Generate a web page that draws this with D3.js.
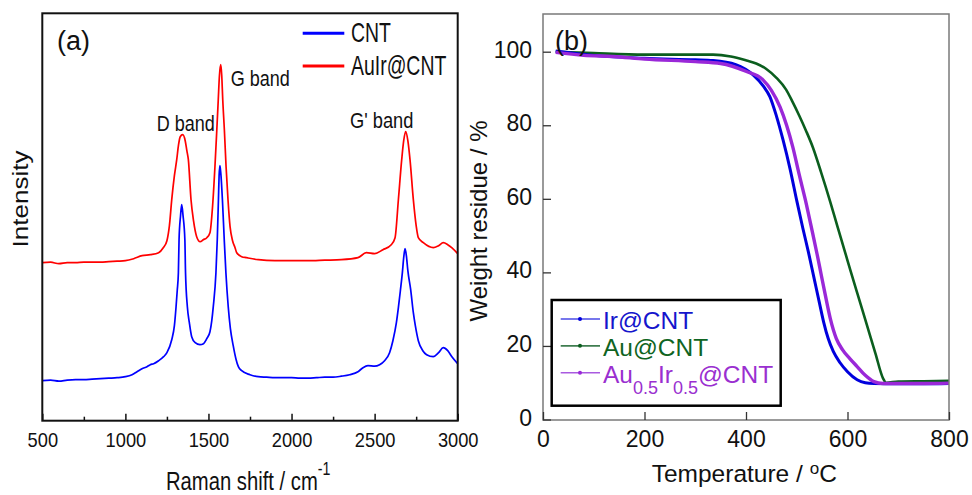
<!DOCTYPE html>
<html>
<head>
<meta charset="utf-8">
<script src="https://cdn.jsdelivr.net/npm/d3@7"></script>
<style>
  body { margin: 0; background: #fff; }
  text { font-family: "Liberation Sans", Arial, sans-serif; fill: #111; }
</style>
</head>
<body>
<div id="chart-area"></div>
<script>
// ---- data: Raman spectra (a) ----
var ramanTicks = [500, 1000, 1500, 2000, 2500, 3000]
var ramanMinor = [750, 1250, 1750, 2250, 2750]

var cntShift = [500,550,600,650,700,750,800,850,900,950,1000,1040,1070,1100,1130,1150,1170,1200,1230,1250,1279,1295,1305,1312,1319,1323,1332,1339,1347,1358,1362,1373,1385,1399,1420,1449,1470,1490,1509,1520,1529,1545,1553,1560,1564,1569,1574,1584,1595,1605,1619,1632,1649,1665,1680,1700,1750,1800,1850,1900,1950,2000,2050,2100,2150,2200,2250,2300,2350,2400,2430,2460,2500,2530,2560,2590,2610,2631,2643,2655,2667,2675,2683,2691,2700,2717,2733,2745,2763,2790,2813,2853,2885,2913,2940,2965,3000]
var cntInt   = [40,40.5,39.5,40.5,41,41,41.5,42,42.5,43,44,46,49,52,54,56,57,60,64,68,81,95,114,130,148,181,205,216,205,181,148,114,98,84,78,76,77,82,89,100,114,148,181,221,245,255,248,221,181,148,114,92,75,62,54,50,46,44,43.5,43,43,43,42.5,42.5,43,43.5,43.5,44.5,46,49,53,55,54.5,56,60,68,80,98,113,130,148,163,172,165,150,131,108,95,80,70,66,64,68,73,70,64,57]

var auirShift = [500,550,600,650,700,750,800,850,900,950,1000,1050,1100,1150,1200,1228,1250,1265,1279,1295,1309,1320,1330,1345,1360,1370,1379,1395,1410,1429,1450,1469,1490,1509,1525,1539,1550,1559,1566,1574,1580,1586,1596,1606,1618,1630,1645,1660,1670,1700,1730,1800,1900,2000,2100,2200,2300,2400,2450,2500,2550,2600,2623,2643,2663,2675,2687,2700,2713,2733,2750,2763,2793,2853,2885,2913,2940,2964,3000]
var auirInt   = [158,158.5,157,158,158,158.5,158.5,158.5,159,159.5,160,162,165,166,168,173,180,195,221,245,261,276,284,286,280,270,261,221,200,184,179,181,183,188,215,254,290,321,345,356,345,321,290,254,220,194,180,173,168,164,163,161,160,160,160,160.5,161,163,168,167,171,176,183,221,261,280,289,280,261,221,195,183,178,173,175,178,176,173,167]

var ramanSeries = ["CNT", "AuIr@CNT"]
var ramanColors = ["#0000ff", "#ff0000"]

// ---- data: TGA (b) ----
var tempTicks = [0, 200, 400, 600, 800]
var weightTicks = [0, 20, 40, 60, 80, 100]

var irTemp  = [25,100,200,300,335,380,414,435,447,460,473,487,500,512,523,534,545,553,562,572,585,600,619,635,652,700,750,800]
var irW     = [100.2,99,98.2,97.8,97.6,96.5,93.7,90.5,87.8,82.5,76,68,59.5,52,45.5,38.5,31.5,26.5,22,18.5,15.5,13,10.8,10,9.8,9.7,9.7,9.8]
var auTemp  = [25,100,200,300,335,370,401,420,440,460,479,492,505,518,532,548,566,580,595,605,620,638,655,670,676,700,750,800]
var auW     = [100,99.6,99.2,99.2,99.2,98.7,97.6,96.8,95.3,92.9,89.7,86.3,82.6,78.6,73.9,67.2,59.2,52.6,45.6,40.9,34,25.8,18,11.2,10,10.3,10.4,10.5]
var auirTemp = [25,80,138,200,300,350,401,433,450,467,480,492,505,519,530,540,548,556,566,578,590,605,619,635,652,670,700,750,800]
var auirW    = [99.8,99,98.7,98,97.3,96.8,94.6,92.4,89.5,85,80,74.2,66.5,58.5,51.5,45,39.5,34,27.5,22,19,16.5,14.4,12,10.3,9.8,9.8,9.8,9.9]

var tgaSeries = ["Ir@CNT", "Au@CNT", "Au0.5Ir0.5@CNT"]
var tgaColors = ["#0000dd", "#0b5e1e", "#9a28d8"]
var tgaLegendLine = ["#4a4ae6", "#3f7d50", "#a95ae0"]
var tgaLegendText = ["#1515cc", "#0f6422", "#9a2fd0"]

var canvasWidth = 972
var canvasHeight = 495

var svg = d3.select("#chart-area")
	.append("svg")
	.attr("width", canvasWidth)
	.attr("height", canvasHeight)

// helper: text with horizontal squeeze (panel a looks compressed)
function label(g, x, y, str, size, sx, anchor, rot) {
	var t = "translate(" + x + "," + y + ") scale(" + sx + ",1)"
	if (rot) t += " rotate(" + rot + ")"
	return g.append("text")
		.attr("transform", t)
		.attr("font-size", size + "px")
		.attr("text-anchor", anchor || "start")
		.text(str)
}

// ================= panel (a) =================
var boxA = {left: 42.3, right: 457.7, top: 13.3, bottom: 420.7}

var xA = d3.scaleLinear().domain([500, 3000]).range([boxA.left, boxA.right])
var yA = d3.scaleLinear().domain([0, 407.4]).range([boxA.bottom, boxA.top])

var gA = svg.append("g")

var lineA = d3.line()
	.x(function(d){ return xA(d[0]) })
	.y(function(d){ return yA(d[1]) })
	.curve(d3.curveMonotoneX)

var ramanData = [
	d3.zip(cntShift, cntInt),
	d3.zip(auirShift, auirInt)
]

gA.selectAll("path.spec")
	.data(ramanData)
	.enter().append("path")
		.attr("class", "spec")
		.attr("d", lineA)
		.attr("fill", "none")
		.attr("stroke", function(d,i){ return ramanColors[i] })
		.attr("stroke-width", 1.7)

var axA = gA.append("g")
	.attr("transform", "translate(0," + boxA.bottom + ")")
	.call(d3.axisBottom(xA).tickValues(ramanTicks).tickSize(-7).tickFormat(d3.format("d")))
axA.select(".domain").remove()
axA.selectAll("line").attr("stroke", "#111").attr("stroke-width", 1.5)
axA.selectAll("text")
	.attr("y", 26).attr("dy", null)
	.attr("font-size", "21px")
	.attr("font-family", "Liberation Sans, Arial, sans-serif")
	.attr("fill", "#111")
	.attr("transform", "scale(0.87,1)")

var axAm = gA.append("g")
	.attr("transform", "translate(0," + boxA.bottom + ")")
	.call(d3.axisBottom(xA).tickValues(ramanMinor).tickSize(-4).tickFormat(""))
axAm.select(".domain").remove()
axAm.selectAll("line").attr("stroke", "#111").attr("stroke-width", 1.5)

gA.append("rect")
	.attr("x", boxA.left).attr("y", boxA.top)
	.attr("width", boxA.right - boxA.left)
	.attr("height", boxA.bottom - boxA.top)
	.attr("fill", "none")
	.attr("stroke", "#111")
	.attr("stroke-width", 2)

label(gA, 57, 49.5, "(a)", 27, 1)
label(gA, 156.7, 130.7, "D band", 22, 0.82)
label(gA, 230.7, 86, "G band", 22, 0.82)
label(gA, 350, 128, "G' band", 22, 0.83)

// legend (a)
ramanSeries.forEach(function(name, i){
	var ly = 33.3 + i * 32.7
	gA.append("line")
		.attr("x1", 302.7).attr("x2", 344.3)
		.attr("y1", ly).attr("y2", ly)
		.attr("stroke", ramanColors[i])
		.attr("stroke-width", 3)
	label(gA, 351, ly + 8.6, name, 27, 0.72)
})

label(gA, 28, 199, "Intensity", 26, 0.86, "middle", -90)

var xt = label(gA, 166, 490, "Raman shift / cm", 25, 0.81)
xt.append("tspan").attr("font-size", "17.5px").attr("dy", -15).text("-1")

// ================= panel (b) =================
var boxB = {left: 543, right: 949, top: 14, bottom: 420}

var xB = d3.scaleLinear().domain([0, 800]).range([boxB.left, boxB.right])
var yB = d3.scaleLinear().domain([0, 110.25]).range([419.5, boxB.top])

var gB = svg.append("g")

var lineB = d3.line()
	.x(function(d){ return xB(d[0]) })
	.y(function(d){ return yB(d[1]) })
	.curve(d3.curveMonotoneX)

var tgaData = [
	d3.zip(irTemp, irW),
	d3.zip(auTemp, auW),
	d3.zip(auirTemp, auirW)
]
var drawOrder = [1, 0, 2]
var tgaWidth = [3, 2.6, 3.4]

drawOrder.forEach(function(i){
	gB.append("path")
		.datum(tgaData[i])
		.attr("d", lineB)
		.attr("fill", "none")
		.attr("stroke", tgaColors[i])
		.attr("stroke-width", tgaWidth[i])
})

gB.append("rect")
	.attr("x", boxB.left).attr("y", boxB.top)
	.attr("width", boxB.right - boxB.left)
	.attr("height", boxB.bottom - boxB.top)
	.attr("fill", "none")
	.attr("stroke", "#7a7a7a")
	.attr("stroke-width", 1.5)

var axBx = gB.append("g")
	.attr("transform", "translate(0," + boxB.bottom + ")")
	.call(d3.axisBottom(xB).tickValues(tempTicks).tickSize(-8))
axBx.select(".domain").remove()
axBx.selectAll("line").attr("stroke", "#333").attr("stroke-width", 1.3)
axBx.selectAll("text")
	.attr("y", 26.7).attr("dy", null)
	.attr("font-size", "23px")
	.attr("font-family", "Liberation Sans, Arial, sans-serif")
	.attr("fill", "#111")

var axBy = gB.append("g")
	.attr("transform", "translate(" + boxB.left + ",0)")
	.call(d3.axisLeft(yB).tickValues(weightTicks).tickSize(-8).tickPadding(11))
axBy.select(".domain").remove()
axBy.selectAll("line").attr("stroke", "#333").attr("stroke-width", 1.3)
axBy.selectAll("text")
	.attr("dy", "0.24em")
	.attr("font-size", "23px")
	.attr("font-family", "Liberation Sans, Arial, sans-serif")
	.attr("fill", "#111")

label(gB, 555, 49.5, "(b)", 27, 1)

label(gB, 487, 221, "Weight residue / %", 24, 1, "middle", -90)

var tl = label(gB, 651.7, 481.7, "Temperature / ", 24.5, 1)
tl.append("tspan").attr("font-size", "17px").attr("dy", -8).text("o")
tl.append("tspan").attr("dy", 8).text("C")

// legend (b)
var lg = gB.append("g")
lg.append("rect")
	.attr("x", 551.7).attr("y", 300)
	.attr("width", 229).attr("height", 105.7)
	.attr("fill", "#fff")
	.attr("stroke", "#000")
	.attr("stroke-width", 2.5)

tgaSeries.forEach(function(name, i){
	var ly = 319 + i * 26.85
	lg.append("line")
		.attr("x1", 560.7).attr("x2", 600)
		.attr("y1", ly).attr("y2", ly)
		.attr("stroke", tgaLegendLine[i])
		.attr("stroke-width", 1.6)
	lg.append("circle")
		.attr("cx", 580).attr("cy", ly).attr("r", 2)
		.attr("fill", tgaColors[i])
	var t = lg.append("text")
		.attr("x", 603).attr("y", ly + 10)
		.attr("font-size", "24.5px")
		.style("fill", tgaLegendText[i])
	if (i < 2) {
		t.text(name)
	} else {
		t.append("tspan").text("Au")
		t.append("tspan").attr("font-size", "18px").attr("dy", 11).text("0.5")
		t.append("tspan").attr("dy", -11).text("Ir")
		t.append("tspan").attr("font-size", "18px").attr("dy", 11).text("0.5")
		t.append("tspan").attr("dy", -11).text("@CNT")
	}
})
</script>
</body>
</html>
